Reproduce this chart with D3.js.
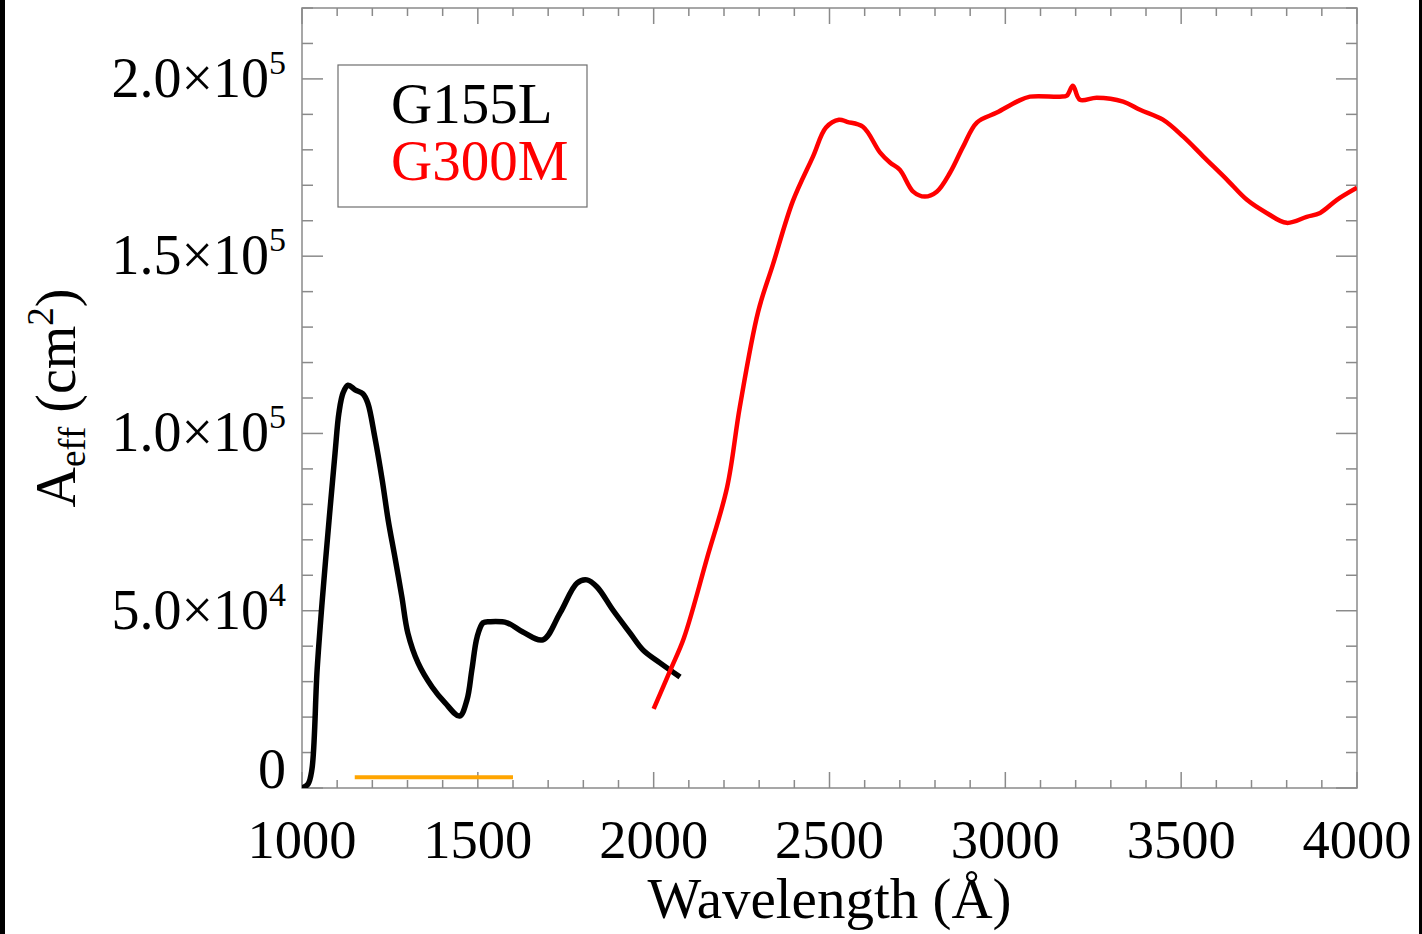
<!DOCTYPE html>
<html>
<head>
<meta charset="utf-8">
<script src="https://cdn.jsdelivr.net/npm/d3@7"></script>
<style>
  html, body { margin: 0; padding: 0; background: #000; }
  svg { display: block; }
  text { font-family: "Liberation Serif", "Times New Roman", serif; }
</style>
</head>
<body>
<script>
// ---- data ----
const g155Wave = [1000,1017,1028,1043,1057,1077,1094,1105,1117,1131,1151,1173,1187,1207,1228,1245,1264,1284,1301,1330,1370,1407,1448,1469,1483,1498,1515,1535,1583,1628,1685,1734,1782,1810,1839,1884,1933,1970,2018,2075];
const g155Aeff = [0,1100,5100,33300,52200,75600,94500,105800,111500,113600,112300,111200,108600,99000,86900,75600,65200,53900,43700,35300,28500,24000,20300,24800,33300,42600,46600,46900,46600,44000,41800,49400,57800,58700,56700,50200,43700,38900,35300,31300];

const g300Wave = [2000,2049,2086,2152,2209,2245,2297,2339,2396,2453,2490,2527,2550,2595,2644,2672,2700,2738,2771,2805,2843,2880,2919,2976,3033,3070,3155,3175,3192,3212,3260,3335,3383,3448,3506,3563,3630,3687,3743,3800,3857,3895,3943,4000];
const g300Aeff = [22300,33600,42300,64900,84900,107500,134300,147600,165600,178100,186300,188500,187900,186500,179200,176400,174400,168200,166800,168200,173600,180900,187700,190500,193600,195000,195000,195300,198100,194100,194700,193600,191300,188500,183700,178100,171600,165900,162200,159400,161100,162200,165900,169300];

const bandWave = [1150, 1600];
const bandAeff = 3000;

const xMajor = [1000,1500,2000,2500,3000,3500,4000];
const xMajorLabels = ["1000","1500","2000","2500","3000","3500","4000"];
const yMajor = [0,50000,100000,150000,200000];
const yMajorMant = ["0","5.0×10","1.0×10","1.5×10","2.0×10"];
const yMajorExp = ["","4","5","5","5"];

const legendNames = ["G155L","G300M"];
const legendColors = ["#000000","#ff0000"];

// ---- layout ----
const W = 1422, H = 934;
const L = 302, R = 1357, T = 8, B = 788;
const frameColor = "#8a8a8a";

const svg = d3.select("body").append("svg").attr("width", W).attr("height", H);
svg.append("rect").attr("x", 0).attr("y", 0).attr("width", W).attr("height", H).attr("fill", "#000");
svg.append("rect").attr("x", 5).attr("y", 0).attr("width", 1414).attr("height", H).attr("fill", "#fff");

const x = d3.scaleLinear().domain([1000, 4000]).range([L, R]);
const y = d3.scaleLinear().domain([0, 220000]).range([B, T]);

// ticks
const xMinor = d3.range(1000, 4001, 100).filter(v => v % 500 !== 0);
const yMinor = d3.range(0, 220001, 10000).filter(v => v % 50000 !== 0);

const tickG = svg.append("g").attr("stroke", frameColor).attr("stroke-width", 1.5);
function xt(v, len) {
  tickG.append("line").attr("x1", x(v)).attr("x2", x(v)).attr("y1", B).attr("y2", B - len);
  tickG.append("line").attr("x1", x(v)).attr("x2", x(v)).attr("y1", T).attr("y2", T + len);
}
function yt(v, len) {
  tickG.append("line").attr("x1", L).attr("x2", L + len).attr("y1", y(v)).attr("y2", y(v));
  tickG.append("line").attr("x1", R).attr("x2", R - len).attr("y1", y(v)).attr("y2", y(v));
}
xMajor.forEach(v => xt(v, 16));
xMinor.forEach(v => xt(v, 8));
yMajor.forEach(v => yt(v, 21));
yMinor.forEach(v => yt(v, 11));

// frame
svg.append("rect").attr("x", L).attr("y", T).attr("width", R - L).attr("height", B - T)
  .attr("fill", "none").attr("stroke", frameColor).attr("stroke-width", 1.5);

// tick labels
svg.append("g").selectAll("text").data(xMajor).join("text")
  .attr("x", d => x(d)).attr("y", 858).attr("text-anchor", "middle")
  .attr("font-size", 54.5).attr("fill", "#000")
  .text((d, i) => xMajorLabels[i]);

const yl = svg.append("g").selectAll("text").data(yMajor).join("text")
  .attr("x", 286).attr("y", d => Math.min(y(d) + 18, B))
  .attr("text-anchor", "end")
  .attr("font-size", 56).attr("fill", "#000");
yl.append("tspan").text((d, i) => yMajorMant[i]);
yl.append("tspan").attr("font-size", 34).attr("dy", -23).text((d, i) => yMajorExp[i]);

// axis titles
svg.append("text").attr("x", (L + R) / 2).attr("y", 918).attr("text-anchor", "middle")
  .attr("font-size", 57).attr("fill", "#000").text("Wavelength (Å)");

const yt1 = svg.append("text").attr("transform", `translate(75,${(T + B) / 2}) rotate(-90)`)
  .attr("text-anchor", "middle").attr("font-size", 56).attr("fill", "#000");
yt1.append("tspan").text("A");
yt1.append("tspan").attr("font-size", 37).attr("dy", 10).text("eff");
yt1.append("tspan").attr("dy", -10).text(" (cm");
yt1.append("tspan").attr("font-size", 37).attr("dy", -22).text("2");
yt1.append("tspan").attr("dy", 22).text(")");

// clip
svg.append("clipPath").attr("id", "clip").append("rect")
  .attr("x", L).attr("y", T).attr("width", R - L).attr("height", B - T);

const plot = svg.append("g").attr("clip-path", "url(#clip)");

// orange band
plot.append("line").attr("x1", x(bandWave[0])).attr("x2", x(bandWave[1]))
  .attr("y1", y(bandAeff)).attr("y2", y(bandAeff))
  .attr("stroke", "#ffa500").attr("stroke-width", 4);

const g155 = g155Wave.map((w, i) => [w, g155Aeff[i]]);
const g300 = g300Wave.map((w, i) => [w, g300Aeff[i]]);

plot.append("path").datum(g155)
  .attr("d", d3.line().x(d => x(d[0])).y(d => y(d[1])).curve(d3.curveCatmullRom.alpha(0.5)))
  .attr("fill", "none").attr("stroke", "#000").attr("stroke-width", 5.5).attr("stroke-linejoin", "round");

plot.append("path").datum(g300)
  .attr("d", d3.line().x(d => x(d[0])).y(d => y(d[1])).curve(d3.curveCatmullRom.alpha(0.5)))
  .attr("fill", "none").attr("stroke", "#ff0000").attr("stroke-width", 4.5).attr("stroke-linejoin", "round");

// legend
svg.append("rect").attr("x", 338).attr("y", 65).attr("width", 249).attr("height", 142)
  .attr("fill", "none").attr("stroke", "#6e6e6e").attr("stroke-width", 1.2);
svg.append("g").selectAll("text").data(legendNames).join("text")
  .attr("x", 391).attr("y", (d, i) => 123 + i * 57)
  .attr("font-size", 57).attr("fill", (d, i) => legendColors[i]).text(d => d);
</script>
</body>
</html>
